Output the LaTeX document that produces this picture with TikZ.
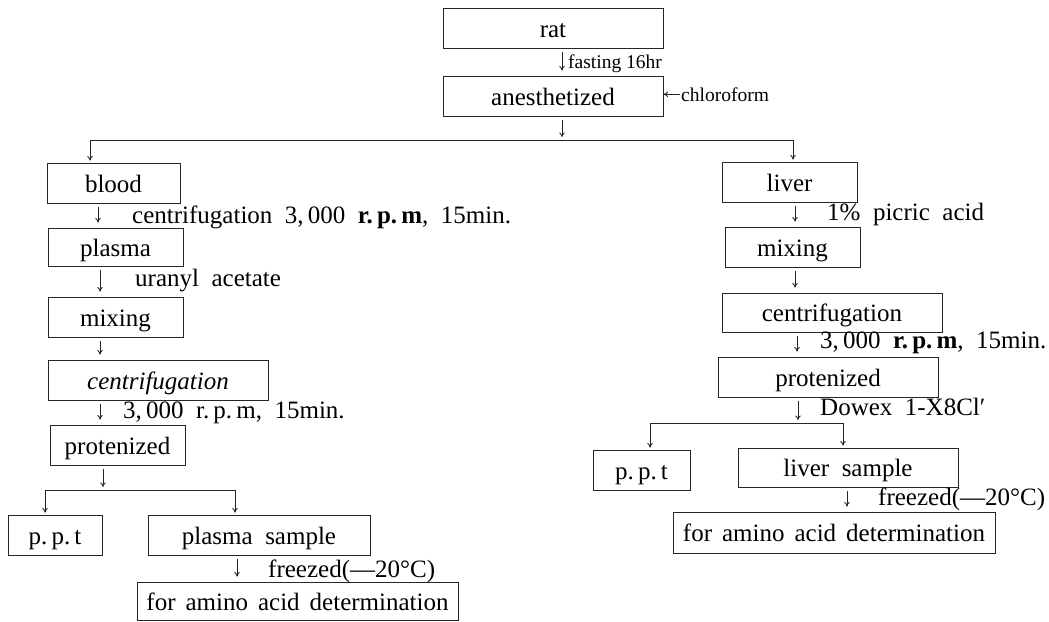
\documentclass[tikz,border=0pt]{standalone}
\usepackage{fontspec}
\setmainfont{Liberation Serif}
\usetikzlibrary{arrows.meta,calc}
\newcommand{\bigf}{\fontsize{25}{29}\selectfont}
\newcommand{\smallf}{\fontsize{19.5}{23}\selectfont}
\newcommand{\wsp}{\hspace{0.4em}}
\begin{document}
\begin{tikzpicture}[x=1pt,y=-1pt,
  box/.style={draw=black!85, line width=0.85pt, rectangle, inner sep=0pt, minimum height=40pt,
    text height=20pt, text depth=2pt, font=\bigf},
  lab/.style={inner sep=0pt, anchor=base west, font=\bigf},
  smalllab/.style={inner sep=0pt, anchor=base west, font=\smallf},
  arr/.style={draw=black!85, line width=0.85pt, -{To[length=4.5pt,width=5.5pt]}, shorten <=4pt, shorten >=5pt},
  drop/.style={arr, shorten <=0pt, shorten >=2pt},
  link/.style={draw=black!85, line width=0.85pt}]
\useasboundingbox (0,0) rectangle (1049,621);

% top
\node[box, minimum width=220pt] (rat) at (553,28) {rat};
\node[box, minimum width=220pt] (anes) at (553,96) {anesthetized};
\node[smalllab] (fast) at (568,68) {fasting 16hr};
\node[smalllab] (chl) at (681,101) {chloroform};
\draw[arr] ($(rat.south)+(9,0)$) -- ($(anes.north)+(9,0)$);
\draw[arr, shorten <=1pt, shorten >=0pt] (chl.west) -- (chl.west -| anes.east);

\coordinate (br) at (562,140);
\coordinate (bl) at (90,140);
\coordinate (brr) at (793,140);
\draw[arr, shorten >=3pt] ($(anes.south)+(9,0)$) -- (br);
\draw[link] (bl) -- (brr);

% left column
\node[box, minimum width=133pt] (blood) at (113.5,183) {blood};
\node[box, minimum width=135pt, minimum height=38pt] (plasma) at (115.5,247) {plasma};
\node[box, minimum width=135pt] (mixL) at (115.5,317) {mixing};
\node[box, minimum width=220pt, font=\bigf\itshape] (centL) at (158,380) {centrifugation};
\node[box, minimum width=135pt] (protL) at (117.5,445) {protenized};
\node[box, minimum width=94pt] (pptL) at (55,535) {p.\,p.\,t};
\node[box, minimum width=222pt] (psL) at (259,535) {plasma\ \ sample};
\node[box, minimum width=321pt, minimum height=38pt] (amL) at (297.5,601) {for\wsp amino\wsp acid\wsp determination};

\node[lab] (lcen) at (132,223) {centrifugation\ \ 3,\,000\ \ \textbf{r.\,p.\,m},\ \ 15min.};
\node[lab] (ura) at (135,286) {uranyl\ \ acetate};
\node[lab] (l3k) at (123,418) {3,\,000\ \ r.\,p.\,m,\ \ 15min.};
\node[lab] (lfz) at (268,577) {freezed(—20°C)};

\draw[drop] (bl) -- (blood.north -| bl);
\draw[arr] ($(blood.south)+(-15.5,0)$) -- ($(plasma.north)+(-17.5,0)$);
\draw[arr] ($(plasma.south)+(-15.5,0)$) -- ($(mixL.north)+(-15.5,0)$);
\draw[arr] ($(mixL.south)+(-15.5,0)$) -- ($(centL.north)+(-58,0)$);
\draw[arr] ($(centL.south)+(-58,0)$) -- ($(protL.north)+(-17.5,0)$);
\coordinate (sL) at (103,490);
\coordinate (sLa) at (45,490);
\coordinate (sLb) at (235,490);
\draw[arr, shorten >=3pt] ($(protL.south)+(-14.5,0)$) -- (sL);
\draw[link] (sLa) -- (sLb);
\draw[drop] (sLa) -- (pptL.north -| sLa);
\draw[drop] (sLb) -- (psL.north -| sLb);
\draw[arr] ($(psL.south)+(-22,0)$) -- ($(amL.north)+(-60.5,0)$);

% right column
\node[box, minimum width=135pt] (liver) at (789.5,182) {liver};
\node[box, minimum width=135pt] (mixR) at (792.5,247) {mixing};
\node[box, minimum width=220pt, minimum height=39pt] (centR) at (832,312.5) {centrifugation};
\node[box, minimum width=220pt] (protR) at (828,377) {protenized};
\node[box, minimum width=97pt] (pptR) at (641.5,470) {p.\,p.\,t};
\node[box, minimum width=220pt, minimum height=39pt] (lsR) at (848,467.5) {liver\ \ sample};
\node[box, minimum width=322pt, minimum height=41pt] (amR) at (834,532.5) {for\wsp amino\wsp acid\wsp determination};

\node[lab] (pic) at (827,220) {1\%\ \ picric\ \ acid};
\node[lab] (r3k) at (820,348) {3,\,000\ \ \textbf{r.\,p.\,m},\ \ 15min.};
\node[lab] (dow) at (820,415) {Dowex\ \ 1-X8Cl′};
\node[lab] (rfz) at (878,505) {freezed(—20°C)};

\draw[drop] (brr) -- (liver.north -| brr);
\draw[arr] ($(liver.south)+(5.5,0)$) -- ($(mixR.north)+(2.5,0)$);
\draw[arr] ($(mixR.south)+(2.5,0)$) -- ($(centR.north)+(-37,0)$);
\draw[arr] ($(centR.south)+(-35,0)$) -- ($(protR.north)+(-31,0)$);
\coordinate (sR) at (798,423);
\coordinate (sRa) at (650,423);
\coordinate (sRb) at (843,423);
\draw[arr, shorten >=3pt] ($(protR.south)+(-30,0)$) -- (sR);
\draw[link] (sRa) -- (sRb);
\draw[drop] (sRa) -- (pptR.north -| sRa);
\draw[drop] (sRb) -- (lsR.north -| sRb);
\draw[arr] ($(lsR.south)+(-1,0)$) -- ($(amR.north)+(13,0)$);
\end{tikzpicture}
\end{document}
